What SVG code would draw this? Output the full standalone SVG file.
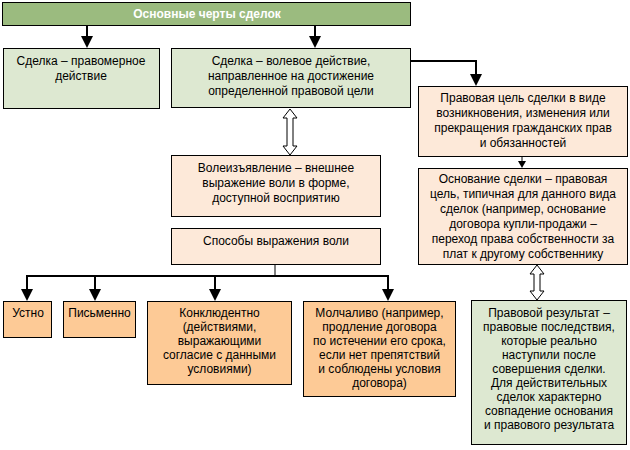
<svg xmlns="http://www.w3.org/2000/svg" width="630" height="450" viewBox="0 0 630 450">
<defs>
<style>
.b{stroke:#000;stroke-width:1}
.g{fill:#dde8d1}
.p{fill:#fde9d9}
.o{fill:#fdca96}
.t{fill:#9bbb7f}
text{font-family:"Liberation Sans",Arial,sans-serif;font-size:12px;fill:#000;text-anchor:middle}
.tt{font-weight:bold;fill:#fff}
.c{fill:none;stroke:#000;stroke-width:2}
.c1{fill:none;stroke:#000;stroke-width:1}
.d{fill:#fff;stroke:#000;stroke-width:1}
</style>
<marker id="ah" viewBox="0 0 12 12" refX="6" refY="12" markerWidth="12" markerHeight="12" markerUnits="userSpaceOnUse" orient="auto-start-reverse">
<path d="M0,0 L12,0 L6,12 Z" fill="#000"/>
</marker>
<marker id="as" viewBox="0 0 8 8" refX="4" refY="8" markerWidth="8" markerHeight="8" markerUnits="userSpaceOnUse">
<path d="M0,0 L8,0 L4,8 Z" fill="#000"/>
</marker>
</defs>
<g id="connectors">
<line class="c" x1="87" y1="25" x2="87" y2="36"/>
<path d="M81,36 L93,36 L87,48 Z"/>
<line class="c" x1="315" y1="25" x2="315" y2="36"/>
<path d="M309,36 L321,36 L315,48 Z"/>
<polyline class="c" points="411,61 476,61 476,74"/>
<path d="M470,74 L482,74 L476,86 Z"/>
<line class="c1" x1="522" y1="157" x2="522" y2="162"/>
<path d="M518,161 L526,161 L522,168 Z"/>
<path class="d" d="M290,109 L297,118 L293,118 L293,146 L297,146 L290,155 L283,146 L287,146 L287,118 L283,118 Z"/>
<path class="d" d="M537,265 L544,274 L540,274 L540,291 L544,291 L537,300 L530,291 L534,291 L534,274 L530,274 Z"/>
<line class="c1" x1="275" y1="264" x2="275" y2="276"/>
<polyline class="c" points="27,289 27,276 388,276 388,289"/>
<line class="c" x1="95" y1="276" x2="95" y2="289"/>
<line class="c" x1="215" y1="276" x2="215" y2="289"/>
<path d="M21,289 L33,289 L27,301 Z"/>
<path d="M89,289 L101,289 L95,301 Z"/>
<path d="M209,289 L221,289 L215,301 Z"/>
<path d="M382,289 L394,289 L388,301 Z"/>
</g>
<g id="title">
<rect class="b t" x="2.5" y="2.5" width="408" height="23"/>
<text class="tt" x="207" y="18">Основные черты сделок</text>
</g>
<g id="n1">
<rect class="b g" x="3.5" y="48.5" width="156" height="60"/>
<text x="81" y="65">Сделка – правомерное</text>
<text x="81" y="80">действие</text>
</g>
<g id="n2">
<rect class="b g" x="171.5" y="48.5" width="239" height="59"/>
<text x="291" y="65">Сделка – волевое действие,</text>
<text x="291" y="80">направленное на достижение</text>
<text x="291" y="95">определенной правовой цели</text>
</g>
<g id="n3">
<rect class="b p" x="418.5" y="86.5" width="209" height="70"/>
<text x="523" y="102">Правовая цель сделки в виде</text>
<text x="523" y="117">возникновения, изменения или</text>
<text x="523" y="132">прекращения гражданских прав</text>
<text x="523" y="147">и обязанностей</text>
</g>
<g id="n4">
<rect class="b p" x="418.5" y="168.5" width="209" height="96"/>
<text x="523" y="183">Основание сделки – правовая</text>
<text x="523" y="198">цель, типичная для данного вида</text>
<text x="523" y="213">сделок (например, основание</text>
<text x="523" y="228">договора купли-продажи –</text>
<text x="523" y="243">переход права собственности за</text>
<text x="523" y="258">плат к другому собственнику</text>
</g>
<g id="n5">
<rect class="b p" x="171.5" y="155.5" width="209" height="61"/>
<text x="276" y="172">Волеизъявление – внешнее</text>
<text x="276" y="187">выражение воли в форме,</text>
<text x="276" y="202">доступной восприятию</text>
</g>
<g id="n6">
<rect class="b p" x="171.5" y="228.5" width="209" height="36"/>
<text x="276" y="245">Способы выражения воли</text>
</g>
<g id="n7">
<rect class="b o" x="3.5" y="301.5" width="48" height="36"/>
<text x="28" y="317">Устно</text>
</g>
<g id="n8">
<rect class="b o" x="63.5" y="301.5" width="72" height="36"/>
<text x="99.5" y="317">Письменно</text>
</g>
<g id="n9">
<rect class="b o" x="147.5" y="301.5" width="144" height="83"/>
<text x="219.5" y="317">Конклюдентно</text>
<text x="219.5" y="331">(действиями,</text>
<text x="219.5" y="345">выражающими</text>
<text x="219.5" y="359">согласие с данными</text>
<text x="219.5" y="373">условиями)</text>
</g>
<g id="n10">
<rect class="b o" x="303.5" y="301.5" width="152" height="95"/>
<text x="379.5" y="317">Молчаливо (например,</text>
<text x="379.5" y="331">продление договора</text>
<text x="379.5" y="345">по истечении его срока,</text>
<text x="379.5" y="359">если нет препятствий</text>
<text x="379.5" y="373">и соблюдены условия</text>
<text x="379.5" y="387">договора)</text>
</g>
<g id="n11">
<rect class="b g" x="471.5" y="300.5" width="155" height="144"/>
<text x="549" y="317">Правовой результат –</text>
<text x="549" y="331">правовые последствия,</text>
<text x="549" y="345">которые реально</text>
<text x="549" y="359">наступили после</text>
<text x="549" y="373">совершения сделки.</text>
<text x="549" y="387">Для действительных</text>
<text x="549" y="401">сделок характерно</text>
<text x="549" y="415">совпадение основания</text>
<text x="549" y="429">и правового результата</text>
</g>
</svg>
